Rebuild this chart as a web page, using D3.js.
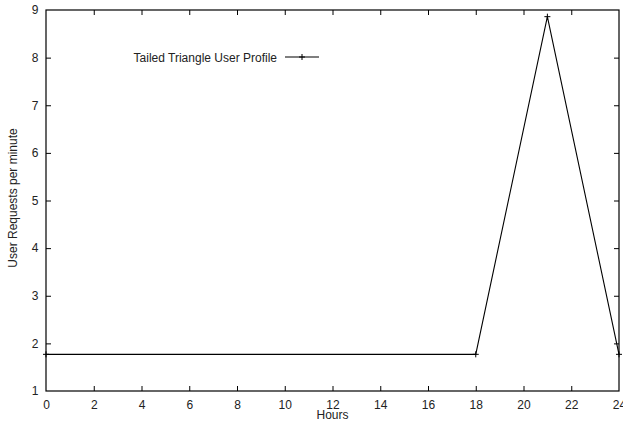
<!DOCTYPE html>
<html>
<head>
<meta charset="utf-8">
<script src="https://cdn.jsdelivr.net/npm/d3@7"></script>
<style>
  html, body { margin: 0; padding: 0; background: #fff; }
  svg { display: block; font-family: "Liberation Sans", Arial, sans-serif; }
</style>
</head>
<body>
<svg id="chart" width="623" height="424"></svg>
<script>
// Request rate over the day (hours vs. requests per minute)
const hours = [0, 18, 21, 24];
const requests = [1.77, 1.77, 8.86, 1.77];
const xTicks = [0, 2, 4, 6, 8, 10, 12, 14, 16, 18, 20, 22, 24];
const yTicks = [1, 2, 3, 4, 5, 6, 7, 8, 9];
const seriesName = "Tailed Triangle User Profile";

const svg = d3.select("#chart");
const plotLeft = 46, plotRight = 619, plotTop = 10, plotBottom = 391;
const tickLen = 5;
const fontSize = 12;
const textColor = "#222";

const x = d3.scaleLinear().domain([0, 24]).range([plotLeft, plotRight]);
const y = d3.scaleLinear().domain([1, 9]).range([plotBottom, plotTop]);

// Axes: labelled bottom/left, mirrored inward ticks on top/right
const gB = svg.append("g").attr("transform", `translate(0,${plotBottom})`)
  .call(d3.axisBottom(x).tickValues(xTicks).tickSize(-tickLen).tickPadding(9).tickFormat(d3.format("d")));
const gT = svg.append("g").attr("transform", `translate(0,${plotTop})`)
  .call(d3.axisTop(x).tickValues(xTicks).tickSize(-tickLen).tickFormat(""));
const gL = svg.append("g").attr("transform", `translate(${plotLeft},0)`)
  .call(d3.axisLeft(y).tickValues(yTicks).tickSize(-tickLen).tickPadding(7.5).tickFormat(d3.format("d")));
const gR = svg.append("g").attr("transform", `translate(${plotRight},0)`)
  .call(d3.axisRight(y).tickValues(yTicks).tickSize(-tickLen).tickFormat(""));

[gB, gT, gL, gR].forEach(g => {
  g.select(".domain").remove();
  g.selectAll(".tick line").attr("stroke", "#000").attr("stroke-width", 1);
  g.selectAll("text").attr("font-size", fontSize).attr("fill", textColor)
    .attr("font-family", "Liberation Sans, Arial, sans-serif");
});
// drop end ticks that would sit on the frame
[gB, gT].forEach(g => g.selectAll(".tick").filter(d => d === 0 || d === 24).select("line").remove());
[gL, gR].forEach(g => g.selectAll(".tick").filter(d => d === 1 || d === 9).select("line").remove());

// frame
svg.append("rect")
  .attr("x", plotLeft).attr("y", plotTop)
  .attr("width", plotRight - plotLeft).attr("height", plotBottom - plotTop)
  .attr("fill", "none").attr("stroke", "#000").attr("stroke-width", 1.2);

// axis titles
svg.append("text")
  .attr("x", (plotLeft + plotRight) / 2).attr("y", 419)
  .attr("text-anchor", "middle").attr("font-size", fontSize).attr("fill", textColor)
  .text("Hours");
svg.append("text")
  .attr("transform", `translate(16.5,198) rotate(-90)`)
  .attr("text-anchor", "middle").attr("font-size", fontSize).attr("fill", textColor)
  .text("User Requests per minute");

// series line
const pts = hours.map((h, i) => [h, requests[i]]);
svg.append("path")
  .datum(pts)
  .attr("fill", "none").attr("stroke", "#000").attr("stroke-width", 1.1)
  .attr("d", d3.line().x(d => x(d[0])).y(d => y(d[1])));

// plus markers
const plus = (g, cx, cy) => {
  g.append("path")
    .attr("d", `M${cx - 3},${cy}H${cx + 3}M${cx},${cy - 3}V${cy + 3}`)
    .attr("stroke", "#000").attr("stroke-width", 1);
};
const markers = svg.append("g");
pts.forEach(d => plus(markers, x(d[0]), y(d[1])));

// legend
const legY = 57;
svg.append("text")
  .attr("x", 277).attr("y", 62)
  .attr("text-anchor", "end").attr("font-size", fontSize).attr("fill", textColor)
  .text(seriesName);
svg.append("line")
  .attr("x1", 285).attr("x2", 319).attr("y1", legY).attr("y2", legY)
  .attr("stroke", "#000").attr("stroke-width", 1.1);
plus(svg, 302, legY);
</script>
</body>
</html>
